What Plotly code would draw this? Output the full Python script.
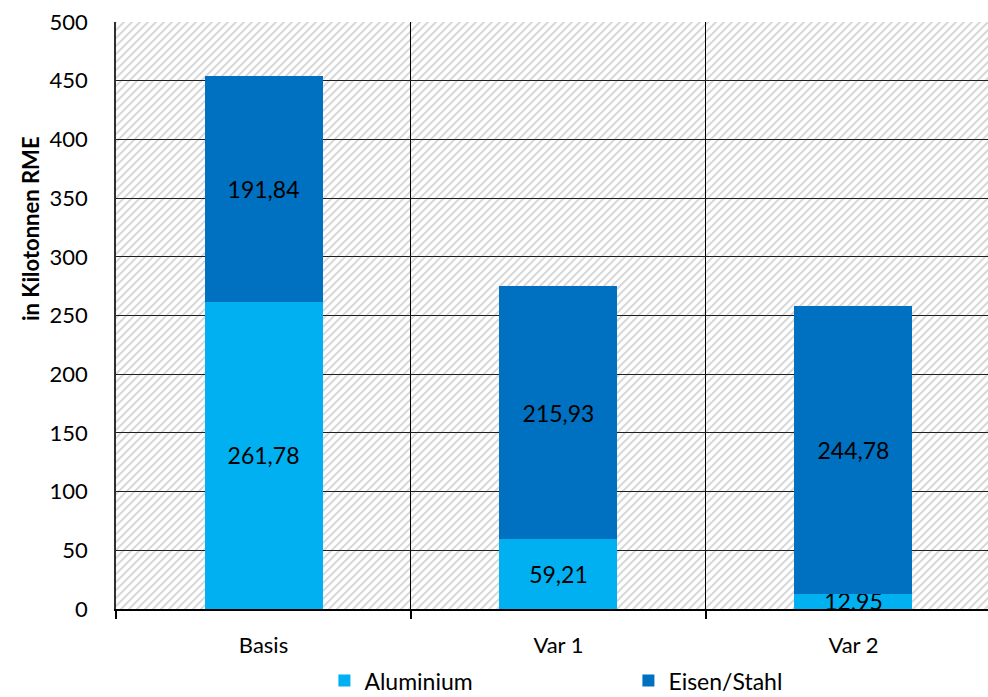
import base64
import plotly.graph_objects as go

# Material demand per scenario, in kilotons of raw material equivalents
categories = ["Basis", "Var 1", "Var 2"]
aluminium = [261.78, 59.21, 12.95]
eisen_stahl = [191.84, 215.93, 244.78]
y_ticks = [0, 50, 100, 150, 200, 250, 300, 350, 400, 450, 500]

Y_MAX = 500
FONT = "Lato"
W, H = 988, 697
M_L, M_R, M_T, M_B = 116, 0, 22, 88
PLOT_W, PLOT_H = W - M_L - M_R, H - M_T - M_B

x_pos = list(range(len(categories)))
boundaries = [i - 0.5 for i in x_pos]

# diagonal hatch used as the plot-area background
hatch_svg = (
    f'<svg xmlns="http://www.w3.org/2000/svg" width="{PLOT_W}" height="{PLOT_H}" '
    f'viewBox="0 0 {PLOT_W} {PLOT_H}">'
    '<defs><pattern id="h" patternUnits="userSpaceOnUse" width="8" height="8">'
    '<path d="M-2,2 l4,-4 M0,8 l8,-8 M6,10 l4,-4" stroke="#d8d8d8" stroke-width="2"/>'
    '</pattern></defs>'
    f'<rect width="{PLOT_W}" height="{PLOT_H}" fill="white"/>'
    f'<rect width="{PLOT_W}" height="{PLOT_H}" fill="url(#h)"/></svg>'
)
hatch_uri = "data:image/svg+xml;base64," + base64.b64encode(hatch_svg.encode()).decode()

fig = go.Figure()

fig.add_trace(go.Bar(
    x=x_pos, y=aluminium, width=0.4, name="Aluminium",
    marker=dict(color="#00B0F0", line=dict(width=0)),
    texttemplate="%{y:.2f}", textposition="inside", insidetextanchor="middle",
    constraintext="none", textfont=dict(family=FONT, size=23, color="black"),
))

fig.add_trace(go.Bar(
    x=x_pos, y=eisen_stahl, width=0.4, name="Eisen/Stahl",
    marker=dict(color="#0070C0", line=dict(width=0)),
    texttemplate="%{y:.2f}", textposition="inside", insidetextanchor="middle",
    constraintext="none", textfont=dict(family=FONT, size=23, color="black"),
))

fig.add_layout_image(
    source=hatch_uri, xref="paper", yref="paper", x=0, y=1,
    sizex=1, sizey=1, xanchor="left", yanchor="top",
    sizing="stretch", layer="below",
)

fig.add_annotation(
    text="<b>in Kilotonnen RME</b>", textangle=-90,
    xref="paper", yref="paper", x=(30 - M_L) / PLOT_W, y=(H - M_B - 229) / PLOT_H,
    xanchor="center", yanchor="middle",
    showarrow=False, font=dict(family=FONT, size=22, color="black"),
)

fig.update_layout(
    width=W, height=H,
    margin=dict(l=M_L, r=M_R, t=M_T, b=M_B, autoexpand=False),
    paper_bgcolor="white", plot_bgcolor="rgba(0,0,0,0)",
    barmode="stack", bargap=0.6,
    separators=",.",
    font=dict(family=FONT, size=22, color="black"),
    xaxis=dict(
        range=[-0.5, 2.456], tickvals=x_pos, ticktext=categories,
        ticks="", showgrid=False, zeroline=False, automargin=False,
        showline=True, linecolor="black", linewidth=2,
        tickfont=dict(family=FONT, size=22),
        ticklabelstandoff=16,
        minor=dict(tickvals=boundaries, ticks="outside", ticklen=8,
                   tickwidth=2, tickcolor="black",
                   showgrid=True, gridcolor="black", gridwidth=1),
    ),
    yaxis=dict(
        range=[0, Y_MAX], tickvals=y_ticks, ticks="", automargin=False,
        showgrid=True, gridcolor="#202020", gridwidth=1,
        zeroline=False, showline=True, linecolor="#303030", linewidth=1.5,
        tickfont=dict(family=FONT, size=22), ticklabelstandoff=22,
    ),
    legend=dict(
        orientation="h", traceorder="normal",
        x=0.239, xanchor="left", y=-0.122, yanchor="middle",
        entrywidth=259, entrywidthmode="pixels",
        font=dict(family=FONT, size=23), itemclick=False,
    ),
    showlegend=True,
)

fig.write_html("out.html")
